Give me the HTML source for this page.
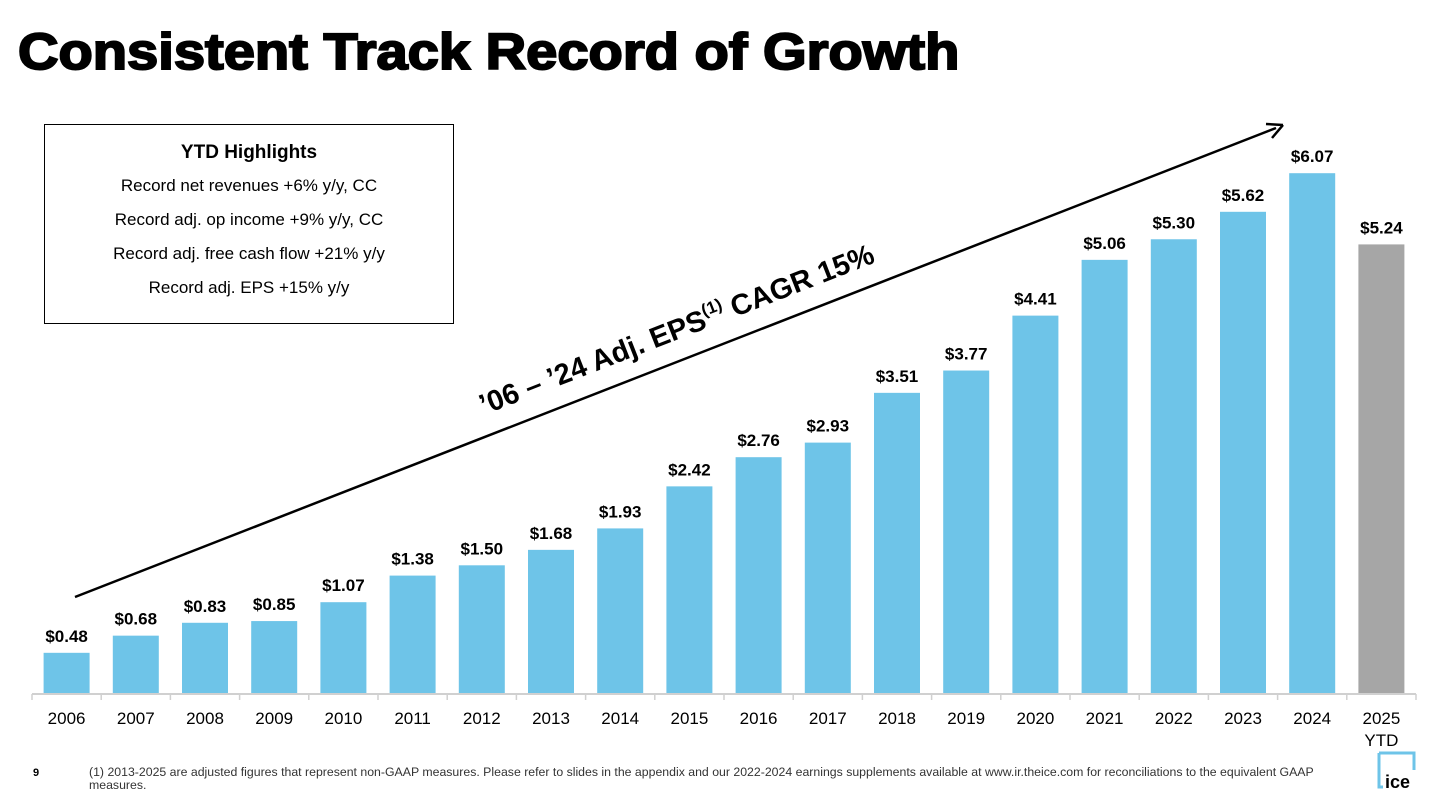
<!DOCTYPE html>
<html><head><meta charset="utf-8"><style>
body{margin:0;width:1456px;height:807px;background:#fff;font-family:"Liberation Sans",Arial,sans-serif;overflow:hidden;position:relative}
h1{position:absolute;left:18px;top:22px;margin:0;font-size:51px;font-weight:900;letter-spacing:0px;color:#000;-webkit-text-stroke:2px #000;transform:scaleX(1.10);transform-origin:left top;white-space:nowrap}
.box{position:absolute;left:44px;top:124px;width:410px;height:200px;border:1.5px solid #000;box-sizing:border-box;text-align:center}
.box b{display:block;font-size:19px;margin-top:17px;margin-bottom:5px}
.box div{font-size:17px;line-height:34px}
.foot{position:absolute;left:89px;top:766px;font-size:12.3px;color:#333;width:1240px;line-height:13px}
.pg{position:absolute;left:33px;top:767px;font-size:11px;font-weight:bold}
</style></head><body>
<h1>Consistent Track Record of Growth</h1>
<div class="box"><b>YTD Highlights</b>
<div>Record net revenues +6% y/y, CC</div><div>Record adj. op income +9% y/y, CC</div><div>Record adj. free cash flow +21% y/y</div><div>Record adj. EPS +15% y/y</div></div>
<svg id="chart" width="1456" height="807" style="position:absolute;left:0;top:0"></svg>
<div class="pg">9</div>
<div class="foot">(1) 2013-2025 are adjusted figures that represent non-GAAP measures. Please refer to slides in the appendix and our 2022-2024 earnings supplements available at www.ir.theice.com for reconciliations to the equivalent GAAP measures.</div>
<svg width="42" height="42" style="position:absolute;left:1376px;top:750px">
<path d="M3 3 V37 H7 M3 3 H38 V20" fill="none" stroke="#6ec4e8" stroke-width="3"/>
<text x="9" y="38" font-family="Liberation Sans" font-weight="bold" font-size="18" fill="#000">ice</text></svg>
<script>
const categories=["2006","2007","2008","2009","2010","2011","2012","2013","2014","2015","2016","2017","2018","2019","2020","2021","2022","2023","2024","2025"];
const values=[0.48,0.68,0.83,0.85,1.07,1.38,1.50,1.68,1.93,2.42,2.76,2.93,3.51,3.77,4.41,5.06,5.30,5.62,6.07,5.24];
const labels=["$0.48","$0.68","$0.83","$0.85","$1.07","$1.38","$1.50","$1.68","$1.93","$2.42","$2.76","$2.93","$3.51","$3.77","$4.41","$5.06","$5.30","$5.62","$6.07","$5.24"];
const svg=document.getElementById('chart');const NS='http://www.w3.org/2000/svg';
const x0=32,x1=1416,base=694,scale=85.8;
const band=(x1-x0)/categories.length;
const xS=i=>x0+band*i+band/2;const yS=v=>base-v*scale;
function mk(t,a){const e=document.createElementNS(NS,t);for(const k in a)e.setAttribute(k,a[k]);svg.appendChild(e);return e;}
categories.forEach((c,i)=>{
 const b=mk('rect',{x:xS(i)-23,y:yS(values[i]),width:46,height:values[i]*scale,fill:i==19?'#a6a6a6':'#6ec4e8'});
 
 
 const l=mk('text',{x:xS(i),y:yS(values[i])-11,'text-anchor':'middle','font-size':'17','font-weight':'bold','font-family':'Liberation Sans'});l.textContent=labels[i];
 
 
 const t=mk('text',{x:xS(i),y:724,'text-anchor':'middle','font-size':'17','font-family':'Liberation Sans'});t.textContent=c;
 
 
 if(i==19){const y=mk('text',{x:xS(i),y:746,'text-anchor':'middle','font-size':'17','font-family':'Liberation Sans'});y.textContent='YTD';
 
 }
});
const ax=mk('path',{d:'M'+x0+' '+base+' H'+x1,stroke:'#d0d0d0','stroke-width':2,fill:'none'});


for(let i=0;i<=categories.length;i++){mk('line',{x1:x0+band*i,x2:x0+band*i,y1:base,y2:base+6,stroke:'#d0d0d0','stroke-width':1.5});}
const ar=mk('line',{x1:75,y1:597,x2:1276,y2:128,stroke:'#000','stroke-width':2.5});


mk('path',{d:'M1283 125 L1266 124 M1283 125 L1272 138',stroke:'#000','stroke-width':2.5,fill:'none'});
const cg=mk('text',{x:0,y:0,'font-size':'29','font-weight':'bold','font-family':'Liberation Sans',transform:'translate(484,415) rotate(-21.3)'});
cg.innerHTML='’06 – ’24 Adj. EPS<tspan font-size="17" dy="-12">(1)</tspan><tspan dy="12"> CAGR 15%</tspan>';


</script>
</body></html>
